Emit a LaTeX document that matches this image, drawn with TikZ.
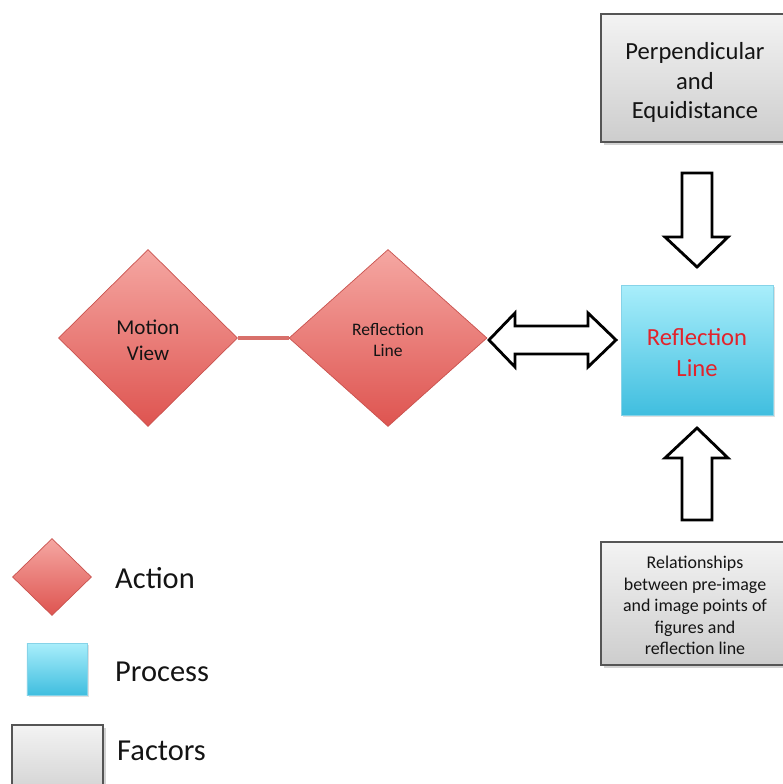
\documentclass[tikz,border=0pt]{standalone}
\usepackage{fontspec}
\setmainfont{Carlito}
\usetikzlibrary{shapes.geometric,shadows}
\definecolor{dtop}{HTML}{F5A7A2}
\definecolor{dbot}{HTML}{DE5450}
\definecolor{dline}{HTML}{C9524E}
\definecolor{ctop}{HTML}{A9EEFB}
\definecolor{cbot}{HTML}{40BEDF}
\definecolor{cline}{HTML}{86D3E8}
\definecolor{gtop}{HTML}{F3F3F3}
\definecolor{gbot}{HTML}{CDCDCD}
\definecolor{gline}{HTML}{555555}
\definecolor{rtext}{HTML}{E2232C}
\definecolor{conn}{HTML}{D8706B}
\definecolor{ink}{HTML}{141414}
\begin{document}
\begin{tikzpicture}[x=0.03cm,y=-0.03cm,
  action/.style={shape=diamond, draw=dline, line width=0.6pt, top color=dtop, bottom color=dbot, inner sep=0pt, align=center, text=ink},
  process/.style={rectangle, draw=cline, line width=0.5pt, top color=ctop, bottom color=cbot, inner sep=0pt, align=center,
    drop shadow={shadow xshift=1.5pt, shadow yshift=-1.5pt, opacity=0.25}},
  factor/.style={rectangle, draw=gline, line width=1pt, top color=gtop, bottom color=gbot, inner sep=0pt, align=center, text=ink,
    drop shadow={shadow xshift=2.5pt, shadow yshift=-2.5pt, opacity=0.35}},
  blockarrow/.style={draw=black, line width=2.4pt, fill=white, line join=miter},
  legendtext/.style={anchor=west, inner sep=0pt, text=ink, font=\fontsize{26}{31}\selectfont}
]
\useasboundingbox (0,0) rectangle (782,784);

% main nodes
\node[factor, minimum width=5.64cm, minimum height=3.84cm, font=\fontsize{21}{25}\selectfont] (perp) at (695,78)
  {\rule{0pt}{22.5pt}Perpendicular\\and\\Equidistance};
\node[process, minimum width=4.56cm, minimum height=3.9cm, font=\fontsize{21}{26}\selectfont, text=rtext] (proc) at (697,350)
  {\rule{0pt}{19pt}Reflection\\Line};
\node[factor, minimum width=5.64cm, minimum height=3.69cm, font=\fontsize{15.3}{18.3}\selectfont] (rel) at (695,603.5)
  {\rule{0pt}{14pt}Relationships\\between pre-image\\and image points of\\figures and\\reflection line};
\node[action, minimum width=5.37cm, minimum height=5.31cm, font=\fontsize{18}{22}\selectfont] (mv) at (148,338)
  {\rule{0pt}{16pt}Motion\\View};
\node[action, minimum width=5.94cm, minimum height=5.31cm, font=\fontsize{15}{18.5}\selectfont] (rl) at (388,338)
  {\rule{0pt}{14pt}Reflection\\Line};

% connector between diamonds
\draw[conn, line width=2.6pt] (mv.east) -- (rl.west);

% double block arrow
\draw[blockarrow] (489,340) -- (515,313) -- (515,326) -- (588,326) -- (588,313) -- (616,340)
  -- (588,367) -- (588,354) -- (515,354) -- (515,367) -- cycle;
% down block arrow
\draw[blockarrow] (682,173) -- (712,173) -- (712,237) -- (728,237) -- (697,267) -- (665,237) -- (682,237) -- cycle;
% up block arrow
\draw[blockarrow] (697,428) -- (728,458) -- (712,458) -- (712,520) -- (682,520) -- (682,458) -- (665,458) -- cycle;

% legend
\node[action, minimum width=2.37cm, minimum height=2.31cm] (lga) at (52,577) {};
\node[legendtext] (lgat) at (115,578) {Action};
\node[process, minimum width=1.8cm, minimum height=1.56cm] (lgp) at (57,669) {};
\node[legendtext] (lgpt) at (115,672) {Process};
\node[factor, minimum width=2.73cm, minimum height=2.4cm] (lgf) at (57.5,765) {};
\node[legendtext] (lgft) at (117,751) {Factors};
\end{tikzpicture}
\end{document}
